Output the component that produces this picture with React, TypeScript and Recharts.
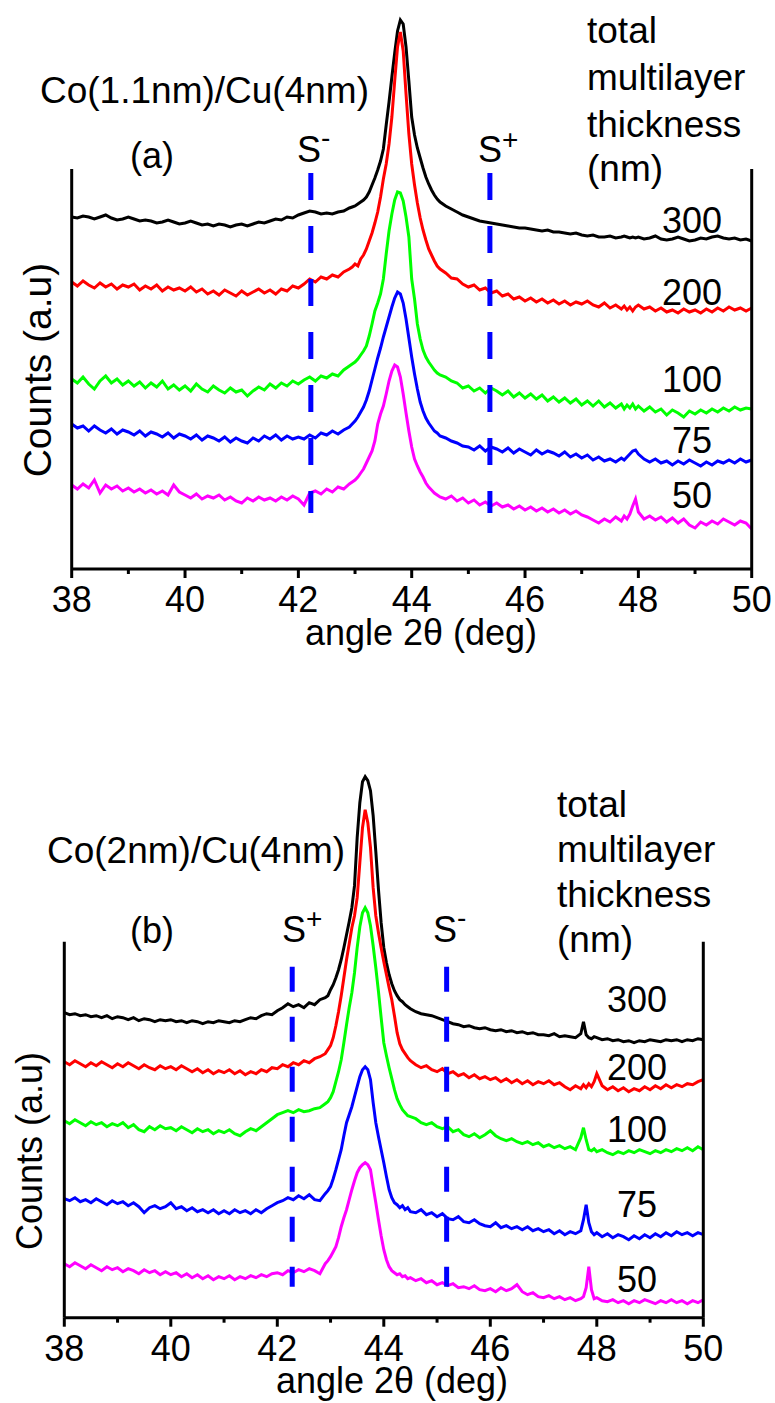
import { LineChart, Line, XAxis, YAxis, ReferenceLine } from "recharts";

const FONT = '"Liberation Sans", Arial, Helvetica, sans-serif';

// shared 2theta grid (deg), denser around the Cu(111)/Co peak
const angles = [
  38.0, 38.1, 38.2, 38.3, 38.4, 38.5, 38.6, 38.7, 38.8, 38.9,
  39.0, 39.1, 39.2, 39.3, 39.4, 39.5, 39.6, 39.7, 39.8, 39.9,
  40.0, 40.1, 40.2, 40.3, 40.4, 40.5, 40.6, 40.7, 40.8, 40.9,
  41.0, 41.1, 41.2, 41.3, 41.4, 41.5, 41.6, 41.7, 41.8, 41.9,
  42.0, 42.1, 42.2, 42.3, 42.4, 42.5, 42.6, 42.7, 42.8, 42.9,
  42.95, 43.0, 43.05, 43.1, 43.15, 43.2, 43.25, 43.3, 43.35, 43.4,
  43.45, 43.5, 43.55, 43.6, 43.65, 43.7, 43.75, 43.8, 43.85, 43.9,
  43.95, 44.0, 44.05, 44.1, 44.15, 44.2, 44.25, 44.3, 44.35, 44.4,
  44.45, 44.5,
  44.6, 44.7, 44.8, 44.9,
  45.0, 45.1, 45.2, 45.3, 45.4, 45.5, 45.6, 45.7, 45.8, 45.9,
  46.0, 46.1, 46.2, 46.3, 46.4, 46.5, 46.6, 46.7, 46.8, 46.9,
  47.0, 47.1, 47.2, 47.3, 47.4, 47.5, 47.6, 47.7,
  47.75, 47.8, 47.85, 47.9, 47.95, 48.0,
  48.1, 48.2, 48.3, 48.4, 48.5, 48.6, 48.7, 48.8, 48.9,
  49.0, 49.1, 49.2, 49.3, 49.4, 49.5, 49.6, 49.7, 49.8, 49.9,
  50.0,
];

const xTicks = [38, 39, 40, 41, 42, 43, 44, 45, 46, 47, 48, 49, 50];

// ---- (a) Co(1.1nm)/Cu(4nm), counts in a.u. (offset stack) ----
const a300 = [
  352, 351, 353, 352, 350, 352, 354, 351, 349, 350,
  352, 350, 348, 349, 348, 346, 347, 349, 347, 345,
  346, 348, 346, 344, 345, 343, 345, 344, 342, 344,
  345, 343, 345, 347, 346, 348, 350, 349, 352, 351,
  354, 356, 358, 357, 355, 356, 355, 357, 358, 361,
  362, 363, 365, 367, 369, 372, 377, 384, 391, 399,
  408, 420, 444, 467, 492, 516, 538, 549, 545, 522,
  488, 452, 434, 421, 411, 401, 392, 385, 379, 374,
  370, 367,
  363, 360, 357, 354,
  352, 350, 348, 347, 346, 345, 344, 343, 342, 341,
  341, 340, 339, 338, 339, 337, 337, 336, 335, 336,
  334, 333, 334, 332, 332, 333, 331, 332,
  333, 332, 331, 332, 331, 332,
  330, 331, 333, 330, 329, 330, 332, 330, 328,
  329, 331, 330, 332, 333, 331, 330, 331, 329, 330,
  328,
];
const a200 = [
  287, 283, 288, 284, 281, 286, 282, 285, 280, 284,
  282, 285, 279, 283, 280, 284, 278, 282, 279, 281,
  278, 282, 277, 280, 275, 278, 274, 279, 276, 273,
  278, 274, 277, 280, 276, 279, 275, 280, 278, 283,
  281, 285, 290, 287, 292, 290, 294, 292, 297, 300,
  302, 305, 303, 310, 314, 320, 328, 336, 346, 357,
  372, 390, 405, 425, 452, 488, 522, 537, 518, 475,
  435, 405, 384, 366, 351, 339, 329, 320, 314, 308,
  303, 300,
  296, 291, 290, 285,
  282, 284, 279, 281, 276, 278, 273, 275, 270, 272,
  268, 271, 267, 270, 266, 269, 265, 268, 264, 267,
  265, 268, 264, 262, 266, 261, 264, 260,
  263, 259, 262, 258, 262, 264,
  260, 262, 258, 261, 257, 259, 256, 260, 257,
  259, 256, 260, 257, 261, 258, 262, 259, 261, 258,
  261,
];
const a100 = [
  190, 186, 192, 185, 180, 188, 193, 186, 190, 184,
  188, 183, 187, 181, 186, 182, 188, 180, 184, 179,
  183, 178, 185, 180, 177, 183, 179, 176, 181, 177,
  179, 173, 178, 182, 179, 185, 181, 186, 183, 188,
  185, 189, 192, 188, 193, 191, 195, 193, 199, 203,
  205, 207, 210, 214, 218, 223, 233, 245, 258, 266,
  275, 290, 315, 338, 355, 369, 377, 376, 368, 352,
  332, 290, 270, 245, 230, 219, 212, 207, 203, 199,
  196, 194,
  192, 188, 186, 181,
  183, 178, 181, 176, 181, 178, 174, 178, 172, 176,
  171, 175, 170, 174, 168, 172, 167, 171, 166, 170,
  164, 168, 163, 168, 162, 166, 161, 165,
  160, 164, 161, 165, 160, 163,
  158, 162, 157, 160, 154, 159, 156, 152, 158,
  155, 159, 156, 160, 157, 161, 158, 162, 159, 161,
  160,
];
const a75 = [
  145, 141, 143, 138, 143, 139, 136, 140, 135, 139,
  137, 134, 138, 133, 137, 135, 132, 136, 131, 135,
  133, 130, 134, 129, 133, 131, 128, 132, 127, 131,
  128, 126, 131, 128, 133, 130, 134, 129, 133, 130,
  132, 130, 134, 131, 136, 134, 138, 135, 139, 142,
  145, 148, 152, 157, 162, 169, 178, 189, 200, 211,
  221, 232, 242, 252, 262, 271, 277, 275, 266, 250,
  231, 212, 195, 180, 167, 158, 151, 146, 142, 138,
  136, 133,
  131, 128, 126, 123,
  122, 119, 123, 118, 122, 120, 117, 121, 116, 120,
  117, 114, 119, 115, 118, 116, 113, 117, 112, 115,
  111, 114, 109, 112, 108, 110, 107, 111,
  109, 112, 115, 118, 119, 115,
  110, 107, 110, 106, 108, 104, 108, 105, 109,
  106, 103, 107, 104, 108, 106, 109, 106, 110, 107,
  109,
];
const a50 = [
  84, 80, 85, 81, 89, 76, 84, 80, 83, 78,
  81, 77, 80, 76, 79, 75, 78, 74, 84, 77,
  74, 71, 75, 70, 73, 71, 74, 69, 72, 68,
  66, 71, 68, 72, 69, 71, 68, 72, 69, 73,
  70, 64, 76, 78, 75, 80, 77, 82, 80, 85,
  87, 89, 92, 96, 100, 106, 112, 118, 128, 145,
  155, 163, 175, 188, 198, 204, 202, 192, 175, 156,
  138, 122, 110, 103, 97, 92, 86, 82, 79, 76,
  74, 72,
  70, 73, 68, 71,
  66, 69, 64, 67, 63, 66, 62, 64, 60, 63,
  59, 62, 58, 61, 57, 60, 56, 59, 55, 58,
  54, 52, 49, 46, 50, 47, 52, 48,
  53, 50, 55, 63, 70, 57,
  50, 53, 49, 52, 47, 51, 46, 50, 44,
  41, 47, 44, 48, 45, 50, 47, 44, 48, 46,
  40,
];

// ---- (b) Co(2nm)/Cu(4nm) ----
const b300 = [
  305, 303, 304, 302, 303, 301, 302, 300, 302, 299,
  301, 300, 298, 300, 297, 299, 298, 296, 298, 297,
  298, 296, 297, 295, 297, 296, 294, 296, 295, 297,
  296, 295, 297, 296, 298, 300, 299, 302, 304, 303,
  307, 310, 314, 311, 313, 310, 315, 313, 318, 320,
  322, 328, 333, 340, 348, 358, 370, 383, 396, 410,
  432, 480, 515, 536, 541, 537, 527, 502, 466, 428,
  395, 370, 355, 343, 334, 327, 322, 318, 316, 313,
  311, 309,
  306, 304, 303, 302,
  300, 298, 296, 294, 293, 291, 292, 290, 289, 290,
  288, 287, 288, 286, 287, 285, 286, 284, 285, 283,
  283, 282, 284, 281, 282, 281, 280, 284,
  296, 283, 280, 279, 281, 280,
  278, 279, 277, 278, 276, 277, 275, 277, 276,
  278, 277, 276, 278, 277, 278, 276, 278, 277, 279,
  278,
];
const b200 = [
  256, 253, 257, 254, 251, 255, 252, 256, 253, 250,
  254, 251, 255, 252, 249, 253, 250, 248, 252, 249,
  251, 248, 252, 249, 246, 249, 245, 248, 244, 247,
  245, 248, 244, 247, 243, 246, 244, 248, 246, 250,
  249, 253, 251, 255, 253, 257, 255, 259, 261, 264,
  268, 272, 280, 292, 306, 322, 340, 358, 374, 390,
  402, 420, 455, 490, 508, 495, 470, 430, 402, 385,
  370, 356, 343, 330, 318, 302, 285, 274, 268, 264,
  260, 257,
  253, 250, 252, 248,
  246, 249, 244, 246, 242, 244, 240, 243, 239, 241,
  238, 240, 236, 239, 235, 238, 234, 237, 233, 236,
  234, 237, 233, 235, 231, 228, 232, 229,
  233, 230, 234, 231, 236, 244,
  232, 228, 231, 227, 230, 226, 229, 227, 231,
  228, 232, 229, 233, 230, 233, 231, 234, 233, 236,
  238,
];
const b100 = [
  197, 194, 198, 195, 192, 196, 193, 195, 191, 194,
  192, 195, 190, 193, 188, 186, 191, 188, 192, 189,
  190, 187, 191, 188, 185, 189, 186, 188, 184, 187,
  185, 188, 184, 182, 186, 189, 187, 191, 195, 199,
  203, 205, 207, 205, 208, 206, 207, 209, 210, 214,
  216, 220, 226, 236, 246, 258, 275, 293, 310, 325,
  345, 370, 391, 405, 410, 405, 392, 372, 350, 326,
  300, 275, 262, 250, 239, 228, 219, 213, 208, 205,
  202, 201,
  199, 195, 193, 195,
  191, 189, 191, 186, 188, 183, 181, 184, 180, 183,
  187, 182, 179, 177, 179, 176, 174, 176, 173, 175,
  171, 173, 170, 172, 169, 171, 168, 180,
  190, 178, 168, 167, 169, 166,
  168, 165, 163, 166, 164, 167, 165, 168, 166,
  164, 167, 165, 168, 166, 169, 167, 170, 167, 171,
  168,
];
const b75 = [
  119, 117, 120, 116, 118, 115, 119, 116, 113, 117,
  114, 116, 112, 115, 111, 105, 110, 112, 109, 111,
  115, 109, 111, 107, 110, 106, 108, 105, 108, 104,
  107, 104, 108, 105, 107, 104, 108, 105, 109, 112,
  115, 117, 120, 118, 122, 119, 123, 118, 117, 124,
  127, 131, 139, 148, 158, 168, 182, 195, 203, 211,
  221, 231, 241, 248, 251, 248, 238, 215, 195, 181,
  168, 155, 141, 128, 120, 115, 113, 110, 112, 108,
  110, 106,
  105, 108, 103, 105,
  101, 104, 99, 98, 101, 96, 95, 98, 94, 92,
  91, 95, 90, 92, 89, 91, 88, 91, 87, 89,
  86, 88, 84, 87, 83, 86, 84, 87,
  98, 113, 95, 86, 83, 85,
  81, 84, 80, 83, 81, 78, 82, 79, 83,
  80, 84, 81, 85, 82, 86, 83, 85, 82, 85,
  83,
];
const b50 = [
  54, 51, 55, 52, 49, 53, 50, 47, 51, 48,
  50, 46, 49, 47, 44, 48, 45, 47, 43, 46,
  43, 45, 41, 44, 40, 43, 39, 42, 38, 41,
  39, 42, 38, 41, 39, 42, 40, 43, 41, 44,
  45, 43, 47, 45, 48, 46, 49, 47, 44, 54,
  57, 61, 66, 71, 80, 91, 100, 108, 118, 128,
  137, 145, 150, 153, 155, 153, 148, 131, 115, 98,
  82, 68, 58, 51, 47, 45, 43, 44, 41, 42,
  39, 40,
  37, 39, 35, 37,
  33, 35, 32, 34, 30, 31, 29, 32, 28, 27,
  29, 26, 30, 27, 29, 33, 26, 23, 25, 21,
  20, 22, 19, 21, 18, 20, 17, 19,
  21, 30, 51, 28, 19, 20,
  17, 16, 18, 15, 17, 14, 17, 15, 18,
  16, 14, 17, 15, 18, 15, 17, 14, 17, 15,
  18,
];

// satellite positions S-/S+ (deg) and minor y ticks
const satellitesA = [42.22, 45.38];
const satellitesB = [42.28, 45.18];
const yTicksA = [28, 56, 84, 112, 140, 168, 196, 224, 252, 280, 308, 336, 364, 392];
const yTicksB = [11, 37, 64, 90, 117, 143, 170, 196, 223, 249, 276, 302, 329, 355];

const thicknessLabels = ["300", "200", "100", "75", "50"];
const colors = ["#000000", "#ff0000", "#00ff00", "#0000ff", "#ff00ff"];
const keys = ["s300", "s200", "s100", "s75", "s50"];

function buildRows(series: number[][]) {
  return angles.map((t, i) => {
    const row: Record<string, number> = { t };
    keys.forEach((k, j) => {
      row[k] = series[j][i];
    });
    return row;
  });
}

const rowsA = buildRows([a300, a200, a100, a75, a50]);
const rowsB = buildRows([b300, b200, b100, b75, b50]);

function AngleTick(props: any) {
  const { x, y, payload } = props;
  const major = payload.value % 2 === 0;
  return (
    <g>
      <line x1={x} y1={y} x2={x} y2={y + (major ? 9 : 5)} stroke="#000" strokeWidth={3} />
      {major && (
        <text x={x} y={y + 43} textAnchor="middle" fontSize={36} fontFamily={FONT} fill="#000">
          {payload.value}
        </text>
      )}
    </g>
  );
}

function CountTick(props: any) {
  const { x, y } = props;
  return <line x1={x} y1={y} x2={x + 5} y2={y} stroke="#000" strokeWidth={2} />;
}

function Panel(props: {
  rows: Record<string, number>[];
  height: number;
  margin: { top: number; right: number; bottom: number; left: number };
  yTicks: number[];
  axisTop: number;
  satellites: number[];
  dashSpan: [number, number];
  dash: string;
}) {
  const { rows, height, margin, yTicks, axisTop, satellites, dashSpan, dash } = props;
  return (
    <LineChart width={775} height={height} data={rows} margin={margin}>
      <XAxis
        type="number"
        dataKey="t"
        domain={[38, 50]}
        ticks={xTicks}
        interval={0}
        tickLine={false}
        tickSize={0}
        tickMargin={0}
        tick={(p: any) => <AngleTick {...p} />}
        height={60}
        axisLine={{ stroke: "#000", strokeWidth: 3 }}
      />
      <YAxis
        type="number"
        domain={[0, 560]}
        width={0}
        ticks={yTicks}
        interval={0}
        axisLine={false}
        tickLine={false}
        tickSize={0}
        tickMargin={0}
        tick={(p: any) => <CountTick {...p} />}
      />
      {keys.map((k, j) => (
        <Line
          key={k}
          type="linear"
          dataKey={k}
          stroke={colors[j]}
          strokeWidth={3}
          dot={false}
          isAnimationActive={false}
        />
      ))}
      <ReferenceLine segment={[{ x: 38, y: 0 }, { x: 38, y: axisTop }]} stroke="#000" strokeWidth={3} />
      <ReferenceLine segment={[{ x: 50, y: 0 }, { x: 50, y: axisTop }]} stroke="#000" strokeWidth={3} />
      {satellites.map((s) => (
        <ReferenceLine
          key={s}
          segment={[{ x: s, y: dashSpan[1] }, { x: s, y: dashSpan[0] }]}
          stroke="#0000ff"
          strokeWidth={5}
          strokeDasharray={dash}
        />
      ))}
    </LineChart>
  );
}

function Sup(props: { x: number; y: number; sup: string; dy: number }) {
  return (
    <text x={props.x} y={props.y} fontSize={36} fontFamily={FONT}>
      S
      <tspan dy={props.dy} fontSize={28}>
        {props.sup}
      </tspan>
    </text>
  );
}

export default function App() {
  const labelYA = [233, 305, 392, 453, 508];
  const labelYB = [1012, 1080, 1142, 1217, 1292];
  return (
    <div style={{ position: "absolute", left: 0, top: 0, width: 775, height: 1403, background: "#fff" }}>
      <div style={{ position: "absolute", left: 0, top: 0 }}>
        <Panel
          rows={rowsA}
          height={700}
          margin={{ top: 9, right: 23.3, bottom: 71, left: 71.7 }}
          yTicks={yTicksA}
          axisTop={400}
          satellites={satellitesA}
          dashSpan={[56, 396]}
          dash="27 26"
        />
      </div>
      <div style={{ position: "absolute", left: 0, top: 700 }}>
        <Panel
          rows={rowsB}
          height={703}
          margin={{ top: 57.7, right: 71.7, bottom: 25.3, left: 64.3 }}
          yTicks={yTicksB}
          axisTop={376}
          satellites={satellitesB}
          dashSpan={[31, 351]}
          dash="25 25"
        />
      </div>
      <svg
        width={775}
        height={1403}
        style={{ position: "absolute", left: 0, top: 0, pointerEvents: "none" }}
        fontFamily={FONT}
        fill="#000"
      >
        {/* panel (a) */}
        <text x={40} y={103} fontSize={37}>Co(1.1nm)/Cu(4nm)</text>
        <text x={130} y={168} fontSize={36}>(a)</text>
        <Sup x={297} y={162} sup="-" dy={-15} />
        <Sup x={478} y={162} sup="+" dy={-13} />
        <text fontSize={37}>
          <tspan x={587} y={43}>total</tspan>
          <tspan x={587} y={90}>multilayer</tspan>
          <tspan x={587} y={137}>thickness</tspan>
          <tspan x={587} y={181}>(nm)</tspan>
        </text>
        {thicknessLabels.map((t, i) => (
          <text key={"a" + t} x={692} y={labelYA[i]} fontSize={36} textAnchor="middle">
            {t}
          </text>
        ))}
        <text x={421} y={645} fontSize={36} textAnchor="middle">angle 2θ (deg)</text>
        <text transform="translate(51,370) rotate(-90)" fontSize={39} textAnchor="middle">
          Counts (a.u)
        </text>

        {/* panel (b) */}
        <text x={47} y={863} fontSize={37}>Co(2nm)/Cu(4nm)</text>
        <text x={130} y={943} fontSize={36}>(b)</text>
        <Sup x={282} y={942} sup="+" dy={-14} />
        <Sup x={433} y={942} sup="-" dy={-15} />
        <text fontSize={37}>
          <tspan x={557} y={817}>total</tspan>
          <tspan x={557} y={862}>multilayer</tspan>
          <tspan x={557} y={907}>thickness</tspan>
          <tspan x={557} y={952}>(nm)</tspan>
        </text>
        {thicknessLabels.map((t, i) => (
          <text key={"b" + t} x={637} y={labelYB[i]} fontSize={36} textAnchor="middle">
            {t}
          </text>
        ))}
        <text x={392} y={1393} fontSize={36} textAnchor="middle">angle 2θ (deg)</text>
        <text transform="translate(42,1151) rotate(-90)" fontSize={36} textAnchor="middle">
          Counts (a.u)
        </text>
      </svg>
    </div>
  );
}
